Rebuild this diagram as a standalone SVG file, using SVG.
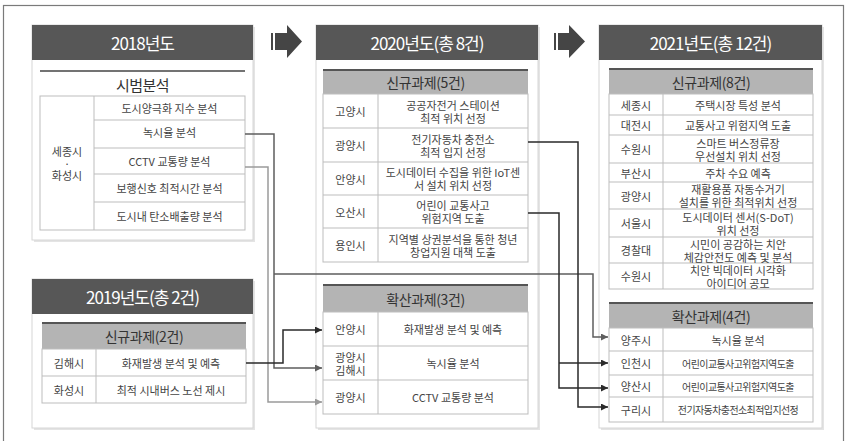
<svg xmlns="http://www.w3.org/2000/svg" width="847" height="441" viewBox="0 0 847 441">
<style>
text{font-family:"Noto Sans CJK KR","Noto Sans",sans-serif;text-anchor:middle;dominant-baseline:central;}
.frame{fill:#fff;stroke:#7a7a7a;stroke-width:1.2;}
.shadow{fill:#e4e4e4;}
.box{fill:#fff;stroke:#d6d6d6;stroke-width:1;}
.hdr{fill:#575757;}
.hdrt{fill:#fff;font-size:17px;letter-spacing:-1px;}
.sub{fill:#b4b4b4;}
.subline{stroke:#555;stroke-width:2;}
.subt{fill:#333;font-size:14px;letter-spacing:-0.4px;}
.tbl{fill:#fff;stroke:#bdbdbd;stroke-width:1;}
.grid{stroke:#bdbdbd;stroke-width:1;}
.c{fill:#444;font-size:11px;}
.cs{fill:#444;font-size:10px;letter-spacing:-0.6px;}
.bigarrow{fill:#454545;}
.con{fill:none;stroke-width:1.5;}
</style>
<defs>
<marker id="ad" markerUnits="userSpaceOnUse" markerWidth="7" markerHeight="7" refX="7" refY="3.5" orient="auto"><path d="M0,0 L7,3.5 L0,7 z" fill="#2a2a2a"/></marker>
<marker id="am" markerUnits="userSpaceOnUse" markerWidth="7" markerHeight="7" refX="7" refY="3.5" orient="auto"><path d="M0,0 L7,3.5 L0,7 z" fill="#5e5e5e"/></marker>
<marker id="al" markerUnits="userSpaceOnUse" markerWidth="7" markerHeight="7" refX="7" refY="3.5" orient="auto"><path d="M0,0 L7,3.5 L0,7 z" fill="#9a9a9a"/></marker>
</defs>
<rect class="frame" x="3.5" y="5.5" width="840" height="445"/>

<g id="arrow-2018-2020">
<rect class="bigarrow" x="271" y="33" width="2" height="17"/>
<polygon class="bigarrow" points="275,33 287,33 287,25 302,41.5 287,58 287,50 275,50"/>
</g>
<g id="arrow-2020-2021">
<rect class="bigarrow" x="554" y="33" width="2" height="17"/>
<polygon class="bigarrow" points="558,33 569,33 569,25 585,41.5 569,58 569,50 558,50"/>
</g>

<g id="box-2018">
<rect class="shadow" x="34" y="27" width="221" height="215"/>
<rect class="box" x="32" y="25" width="221" height="215"/>
<rect class="hdr" x="32" y="25" width="221" height="35"/>
<text class="hdrt" x="142.5" y="42.5">2018년도</text>
<line x1="40" y1="71" x2="245" y2="71" stroke="#444" stroke-width="1.5"/>
<text x="142.5" y="84" style="font-size:15px;fill:#333;letter-spacing:-0.5px">시범분석</text>
<rect class="tbl" x="40" y="96" width="205" height="134"/>
<line class="grid" x1="94" y1="96" x2="94" y2="230"/>
<line class="grid" x1="94" y1="120" x2="245" y2="120"/>
<line class="grid" x1="94" y1="148" x2="245" y2="148"/>
<line class="grid" x1="94" y1="174" x2="245" y2="174"/>
<line class="grid" x1="94" y1="202" x2="245" y2="202"/>
<text class="c"><tspan x="67" y="151">세종시</tspan><tspan x="67" dy="12">·</tspan><tspan x="67" dy="12">화성시</tspan></text>
<text class="c" x="169.5" y="108">도시양극화 지수 분석</text>
<text class="c" x="169.5" y="132">녹시율 분석</text>
<text class="c" x="169.5" y="161">CCTV 교통량 분석</text>
<text class="c" x="169.5" y="188">보행신호 최적시간 분석</text>
<text class="c" x="169.5" y="216">도시내 탄소배출량 분석</text>
</g>

<g id="box-2019">
<rect class="shadow" x="34" y="281" width="221" height="149"/>
<rect class="box" x="32" y="279" width="221" height="149"/>
<rect class="hdr" x="32" y="279" width="221" height="35"/>
<text class="hdrt" x="142.5" y="296.5">2019년도(총 2건)</text>
<rect class="sub" x="42" y="323" width="204" height="26"/>
<line class="subline" x1="42" y1="323" x2="246" y2="323"/>
<text class="subt" x="144" y="336">신규과제(2건)</text>
<rect class="tbl" x="42" y="349" width="204" height="54"/>
<line class="grid" x1="96" y1="349" x2="96" y2="403"/>
<line class="grid" x1="42" y1="376" x2="246" y2="376"/>
<text class="c" x="69" y="362.5">김해시</text>
<text class="c" x="171" y="362.5">화재발생 분석 및 예측</text>
<text class="c" x="69" y="389.5">화성시</text>
<text class="c" x="171" y="389.5">최적 시내버스 노선 제시</text>
</g>

<g id="box-2020">
<rect class="shadow" x="318" y="27" width="222" height="403"/>
<rect class="box" x="316" y="25" width="222" height="403"/>
<rect class="hdr" x="316" y="25" width="222" height="35"/>
<text class="hdrt" x="427" y="42.5">2020년도(총 8건)</text>
<rect class="sub" x="323" y="70" width="205" height="24"/>
<line class="subline" x1="323" y1="70" x2="528" y2="70"/>
<text class="subt" x="425.5" y="82">신규과제(5건)</text>
<rect class="tbl" x="323" y="94" width="205" height="168"/>
<line class="grid" x1="378" y1="94" x2="378" y2="262"/>
<line class="grid" x1="323" y1="128" x2="528" y2="128"/>
<line class="grid" x1="323" y1="162" x2="528" y2="162"/>
<line class="grid" x1="323" y1="195" x2="528" y2="195"/>
<line class="grid" x1="323" y1="228" x2="528" y2="228"/>
<text class="c" x="350.5" y="111">고양시</text>
<text class="c"><tspan x="453" y="104.5">공공자전거 스테이션</tspan><tspan x="453" dy="13">최적 위치 선정</tspan></text>
<text class="c" x="350.5" y="145">광양시</text>
<text class="c"><tspan x="453" y="138.5">전기자동차 충전소</tspan><tspan x="453" dy="13">최적 입지 선정</tspan></text>
<text class="c" x="350.5" y="178.5">안양시</text>
<text class="c"><tspan x="453" y="172">도시데이터 수집을 위한 IoT센</tspan><tspan x="453" dy="13">서 설치 위치 선정</tspan></text>
<text class="c" x="350.5" y="211.5">오산시</text>
<text class="c"><tspan x="453" y="205">어린이 교통사고</tspan><tspan x="453" dy="13">위험지역 도출</tspan></text>
<text class="c" x="350.5" y="245">용인시</text>
<text class="c"><tspan x="453" y="238.5">지역별 상권분석을 통한 청년</tspan><tspan x="453" dy="13">창업지원 대책 도출</tspan></text>
<rect class="sub" x="323" y="285" width="205" height="27"/>
<line class="subline" x1="323" y1="285" x2="528" y2="285"/>
<text class="subt" x="425.5" y="298.5">확산과제(3건)</text>
<rect class="tbl" x="323" y="312" width="205" height="102"/>
<line class="grid" x1="378" y1="312" x2="378" y2="414"/>
<line class="grid" x1="323" y1="346" x2="528" y2="346"/>
<line class="grid" x1="323" y1="380" x2="528" y2="380"/>
<text class="c" x="350.5" y="329">안양시</text>
<text class="c" x="453" y="329">화재발생 분석 및 예측</text>
<text class="c"><tspan x="350.5" y="356.5">광양시</tspan><tspan x="350.5" dy="13">김해시</tspan></text>
<text class="c" x="453" y="363">녹시율 분석</text>
<text class="c" x="350.5" y="397">광양시</text>
<text class="c" x="453" y="397">CCTV 교통량 분석</text>
</g>

<g id="box-2021">
<rect class="shadow" x="601" y="27" width="223" height="403"/>
<rect class="box" x="599" y="25" width="223" height="403"/>
<rect class="hdr" x="599" y="25" width="223" height="35"/>
<text class="hdrt" x="710.5" y="42.5">2021년도(총 12건)</text>
<rect class="sub" x="609" y="69" width="204" height="25"/>
<line class="subline" x1="609" y1="69" x2="813" y2="69"/>
<text class="subt" x="711" y="81.5">신규과제(8건)</text>
<rect class="tbl" x="609" y="94" width="204" height="195"/>
<line class="grid" x1="663" y1="94" x2="663" y2="289"/>
<line class="grid" x1="609" y1="115" x2="813" y2="115"/>
<line class="grid" x1="609" y1="135" x2="813" y2="135"/>
<line class="grid" x1="609" y1="163" x2="813" y2="163"/>
<line class="grid" x1="609" y1="182" x2="813" y2="182"/>
<line class="grid" x1="609" y1="209" x2="813" y2="209"/>
<line class="grid" x1="609" y1="237" x2="813" y2="237"/>
<line class="grid" x1="609" y1="263" x2="813" y2="263"/>
<text class="c" x="636" y="104.5">세종시</text>
<text class="c" x="738" y="104.5">주택시장 특성 분석</text>
<text class="c" x="636" y="125">대전시</text>
<text class="c" x="738" y="125">교통사고 위험지역 도출</text>
<text class="c" x="636" y="149">수원시</text>
<text class="c"><tspan x="738" y="142.5">스마트 버스정류장</tspan><tspan x="738" dy="13">우선설치 위치 선정</tspan></text>
<text class="c" x="636" y="172.5">부산시</text>
<text class="c" x="738" y="172.5">주차 수요 예측</text>
<text class="c" x="636" y="195.5">광양시</text>
<text class="c"><tspan x="738" y="189">재활용품 자동수거기</tspan><tspan x="738" dy="13">설치를 위한 최적위치 선정</tspan></text>
<text class="c" x="636" y="223">서울시</text>
<text class="c"><tspan x="738" y="216.5">도시데이터 센서(S-DoT)</tspan><tspan x="738" dy="13">위치 선정</tspan></text>
<text class="c" x="636" y="250">경찰대</text>
<text class="c"><tspan x="738" y="243.5">시민이 공감하는 치안</tspan><tspan x="738" dy="13">체감안전도 예측 및 분석</tspan></text>
<text class="c" x="636" y="276">수원시</text>
<text class="c"><tspan x="738" y="269.5">치안 빅데이터 시각화</tspan><tspan x="738" dy="13">아이디어 공모</tspan></text>
<rect class="sub" x="609" y="303" width="204" height="25"/>
<line class="subline" x1="609" y1="303" x2="813" y2="303"/>
<text class="subt" x="711" y="315.5">확산과제(4건)</text>
<rect class="tbl" x="609" y="328" width="204" height="94"/>
<line class="grid" x1="663" y1="328" x2="663" y2="422"/>
<line class="grid" x1="609" y1="351" x2="813" y2="351"/>
<line class="grid" x1="609" y1="375" x2="813" y2="375"/>
<line class="grid" x1="609" y1="397" x2="813" y2="397"/>
<text class="c" x="636" y="339.5">양주시</text>
<text class="c" x="738" y="339.5">녹시율 분석</text>
<text class="c" x="636" y="363">인천시</text>
<text class="cs" x="738" y="363">어린이교통사고위험지역도출</text>
<text class="c" x="636" y="386">양산시</text>
<text class="cs" x="738" y="386">어린이교통사고위험지역도출</text>
<text class="c" x="636" y="409.5">구리시</text>
<text class="cs" x="738" y="409.5">전기자동차충전소최적입지선정</text>
</g>

<g id="connectors">
<polyline class="con" stroke="#5e5e5e" points="245,134 274,134 274,368 322,368" marker-end="url(#am)"/>
<polyline class="con" stroke="#5e5e5e" points="274,274 593,274 593,337 608,337" marker-end="url(#am)"/>
<polyline class="con" stroke="#9a9a9a" points="245,167 268,167 268,402 322,402" marker-end="url(#al)"/>
<polyline class="con" stroke="#2a2a2a" points="246,363 283,363 283,330 322,330" marker-end="url(#ad)"/>
<polyline class="con" stroke="#2a2a2a" points="528,142 578,142 578,407 608,407" marker-end="url(#ad)"/>
<polyline class="con" stroke="#2a2a2a" points="528,213 559,213 559,388 608,388" marker-end="url(#ad)"/>
<polyline class="con" stroke="#2a2a2a" points="559,363 608,363" marker-end="url(#ad)"/>
</g>
</svg>
